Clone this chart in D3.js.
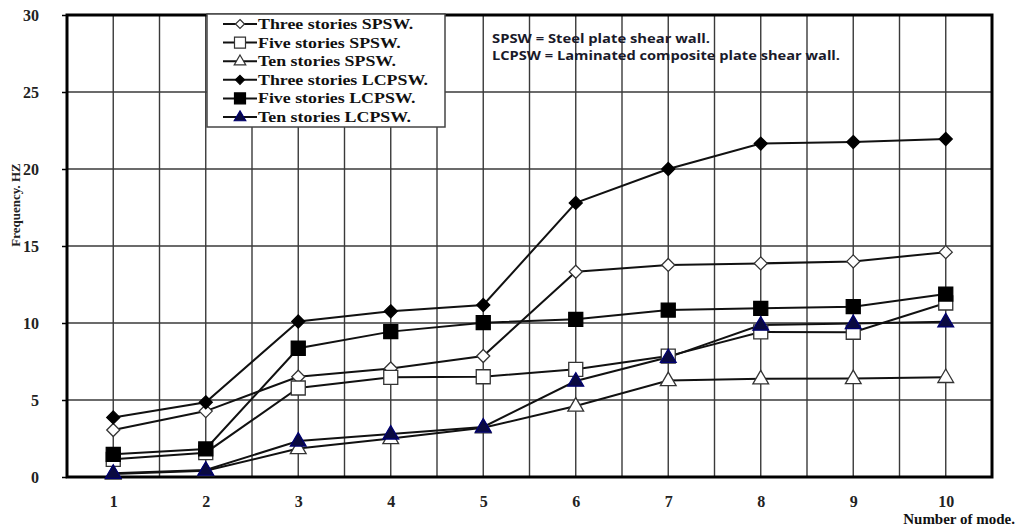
<!DOCTYPE html>
<html><head><meta charset="utf-8">
<script src="https://cdn.jsdelivr.net/npm/d3@7"></script>
<style>body{margin:0;background:#fff}svg{display:block}</style>
</head><body>
<svg id="c" width="1018" height="528"></svg>
<script>
const modes = [1,2,3,4,5,6,7,8,9,10];
const threeSPSW  = [3.05, 4.28, 6.51, 7.05, 7.86, 13.33, 13.77, 13.87, 14.0, 14.6];
const fiveSPSW   = [1.15, 1.58, 5.78, 6.47, 6.51, 6.99, 7.85, 9.42, 9.4, 11.3];
const tenSPSW    = [0.2, 0.4, 1.85, 2.5, 3.2, 4.61, 6.27, 6.38, 6.4, 6.47];
const threeLCPSW = [3.87, 4.85, 10.1, 10.76, 11.17, 17.8, 20.0, 21.65, 21.75, 21.95];
const fiveLCPSW  = [1.47, 1.82, 8.36, 9.44, 10.02, 10.24, 10.84, 10.95, 11.06, 11.88];
const tenLCPSW   = [0.25, 0.45, 2.34, 2.8, 3.25, 6.23, 7.77, 9.87, 9.97, 10.08];
const seriesNames = ["Three stories SPSW.","Five stories SPSW.","Ten stories SPSW.","Three stories LCPSW.","Five stories LCPSW.","Ten stories LCPSW."];
const yTicks = [0,5,10,15,20,25,30];
const xTicks = [1,2,3,4,5,6,7,8,9,10];
const notes = ["SPSW = Steel plate shear wall.","LCPSW = Laminated composite plate shear wall."];

const series = [
  {name:seriesNames[0], values:threeSPSW, shape:"diamond", fill:"#fff"},
  {name:seriesNames[1], values:fiveSPSW, shape:"square", fill:"#fff"},
  {name:seriesNames[2], values:tenSPSW, shape:"triangle", fill:"#fff"},
  {name:seriesNames[3], values:threeLCPSW, shape:"diamond", fill:"#000"},
  {name:seriesNames[4], values:fiveLCPSW, shape:"square", fill:"#000"},
  {name:seriesNames[5], values:tenLCPSW, shape:"triangle", fill:"#0a0a40"}
];

const svg = d3.select("#c");
const L=67, R=992, T=15, B=477;
const x = d3.scaleLinear().domain([0.5,10.5]).range([L,R]);
const y = d3.scaleLinear().domain([0,30]).range([B,T]);

function shapePath(shape, s){
  if(shape==="diamond") return `M0,${-s}L${s},0L0,${s}L${-s},0Z`;
  if(shape==="square") return `M${-s},${-s}H${s}V${s}H${-s}Z`;
  const h = s*1.8;
  return `M0,${-h*0.62}L${s*1.05},${h*0.38}L${-s*1.05},${h*0.38}Z`;
}
const markSize = {diamond:6.5, square:7, triangle:7.5};
const legSize = {diamond:4.5, square:5.5, triangle:5.5};
const strokeOf = s => s.shape==="triangle"&&s.fill!=="#fff" ? "#000070" : (s.fill==="#fff"?"#333":"#000");

// gridlines
const grid = svg.append("g").attr("stroke","#3a3a3a").attr("stroke-width",1.4);
grid.selectAll("line.h").data(yTicks.slice(1,-1)).join("line")
  .attr("x1",L).attr("x2",R).attr("y1",d=>y(d)).attr("y2",d=>y(d));
grid.selectAll("line.v").data(d3.range(1,10.5,0.5)).join("line")
  .attr("y1",T).attr("y2",B).attr("x1",d=>x(d)).attr("x2",d=>x(d));

// y axis ticks and labels
const yAxis = d3.axisLeft(y).tickValues(yTicks).tickSize(5).tickPadding(23);
const ya = svg.append("g").attr("transform",`translate(${L},0)`).call(yAxis);
ya.select(".domain").remove();
ya.selectAll("line").attr("stroke","#000").attr("stroke-width",1.5);
ya.selectAll("text").attr("font-family","Liberation Serif").attr("font-weight","bold").attr("font-size",16).attr("fill","#222");

const xAxis = d3.axisBottom(x).tickValues(xTicks).tickSize(0).tickPadding(19);
const xa = svg.append("g").attr("transform",`translate(0,${B})`).call(xAxis);
xa.select(".domain").remove();
xa.selectAll("text").attr("font-family","Liberation Serif").attr("font-weight","bold").attr("font-size",16).attr("fill","#222");

// frame
svg.append("rect").attr("x",L).attr("y",T).attr("width",R-L).attr("height",B-T)
  .attr("fill","none").attr("stroke","#000").attr("stroke-width",3);

// lines
const line = d3.line().x((d,i)=>x(modes[i])).y(d=>y(d));
series.forEach(s=>{
  svg.append("path").attr("d",line(s.values)).attr("fill","none").attr("stroke","#111").attr("stroke-width",2);
});
series.forEach(s=>{
  svg.append("g").selectAll("path").data(s.values).join("path")
    .attr("transform",(d,i)=>`translate(${x(modes[i])},${y(d)})`)
    .attr("d",shapePath(s.shape, markSize[s.shape]))
    .attr("fill",s.fill)
    .attr("stroke", strokeOf(s))
    .attr("stroke-width",1.3);
});

// legend
const lg = svg.append("g");
lg.append("rect").attr("x",207).attr("y",14).attr("width",238).attr("height",113)
  .attr("fill","#fff").attr("stroke","#444").attr("stroke-width",1.5);
series.forEach((s,i)=>{
  const cy = 24 + i*18.6;
  lg.append("line").attr("x1",223).attr("x2",257).attr("y1",cy).attr("y2",cy).attr("stroke","#111").attr("stroke-width",2);
  lg.append("path").attr("transform",`translate(240,${cy})`).attr("d",shapePath(s.shape, legSize[s.shape]))
    .attr("fill",s.fill).attr("stroke", strokeOf(s)).attr("stroke-width",1.2);
  const t = lg.append("text").attr("x",258).attr("y",cy+5).text(s.name)
    .attr("font-family","Liberation Serif").attr("font-weight","bold").attr("font-size",15).attr("fill","#111");
  const w = t.node().getComputedTextLength();
  t.attr("textLength", w*1.19).attr("lengthAdjust","spacingAndGlyphs");
});

// notes
notes.forEach((t,i)=>{
  svg.append("text").attr("x",492).attr("y",43+i*16.5).text(t)
    .attr("font-family","Open Sans").attr("font-weight","700").attr("font-size",13)
    .attr("textLength", i===0?218:348).attr("lengthAdjust","spacingAndGlyphs")
    .attr("fill","#1a1a2a");
});

// axis titles
svg.append("text").attr("transform","translate(20,205) rotate(-90)").attr("text-anchor","middle")
  .text("Frequency. HZ").attr("font-family","Liberation Serif").attr("font-weight","bold").attr("font-size",13).attr("fill","#222");
svg.append("text").attr("x",1015).attr("y",524).attr("text-anchor","end")
  .text("Number of mode.").attr("font-family","Liberation Serif").attr("font-weight","bold").attr("font-size",15).attr("fill","#111");
</script>
</body></html>
